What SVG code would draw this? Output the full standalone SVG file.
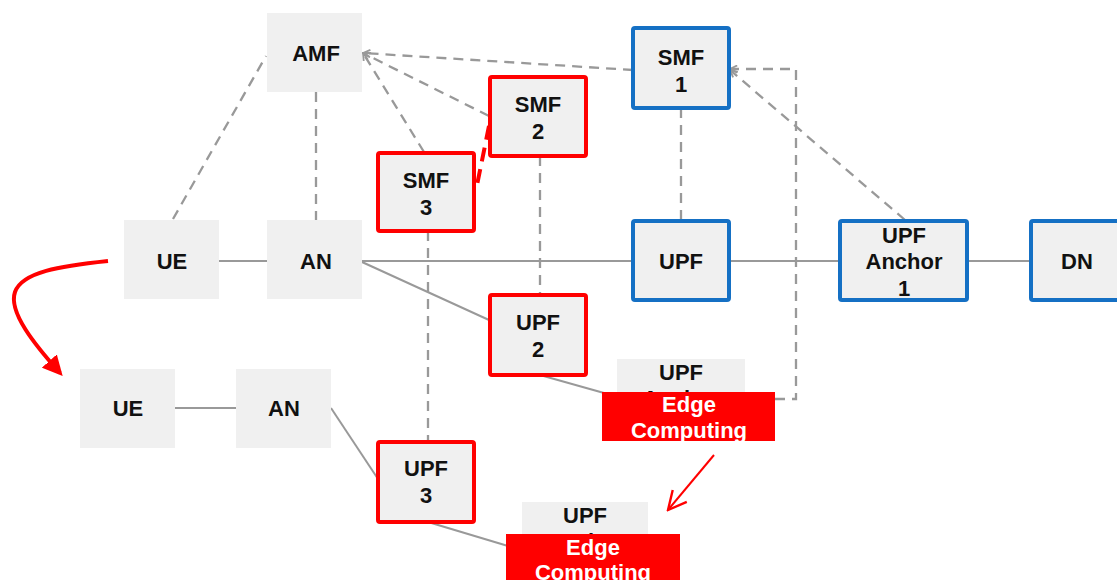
<svg xmlns="http://www.w3.org/2000/svg" width="1117" height="580" viewBox="0 0 1117 580">
  <style>
    .box { fill: #f0f0f0; }
    .blue { fill: #f0f0f0; stroke: #1570c4; stroke-width: 4; }
    .red { fill: #f0f0f0; stroke: #ff0000; stroke-width: 4; }
    .edge { fill: #ff0000; }
    .t { font-family: "Liberation Sans", Arial, sans-serif; font-weight: bold; font-size: 22px; fill: #111; text-anchor: middle; }
    .w { fill: #ffffff; }
    .solid { stroke: #999; stroke-width: 2; fill: none; }
    .dash { stroke: #999; stroke-width: 2.3; fill: none; stroke-dasharray: 10 7; }
  </style>
  <defs>
    <marker id="openGray" viewBox="0 0 10 10" refX="9" refY="5" markerWidth="9" markerHeight="9" markerUnits="userSpaceOnUse" orient="auto">
      <path d="M1,1 L9,5 L1,9" fill="none" stroke="#999" stroke-width="2"/>
    </marker>
    <marker id="redHead" viewBox="0 0 10 10" refX="8" refY="5" markerWidth="5" markerHeight="5" orient="auto">
      <path d="M0,0 L10,5 L0,10 Z" fill="#ff0000"/>
    </marker>
    <marker id="redOpen" viewBox="0 0 12 12" refX="11" refY="6" markerWidth="22" markerHeight="22" markerUnits="userSpaceOnUse" orient="auto">
      <path d="M1,1 L11,6 L1,11" fill="none" stroke="#ff0000" stroke-width="1.3"/>
    </marker>
  </defs>

  <!-- connectors: solid user-plane links, dashed control links, red moves -->
  <g id="connectors">
    <line class="solid" x1="219" y1="261" x2="267" y2="261"/>
    <line class="solid" x1="362" y1="261" x2="633" y2="261"/>
    <line class="solid" x1="729" y1="261" x2="840" y2="261"/>
    <line class="solid" x1="967" y1="261" x2="1030" y2="261"/>
    <line class="solid" x1="362" y1="262" x2="489" y2="320"/>
    <line class="solid" x1="540" y1="375" x2="604" y2="393"/>
    <line class="solid" x1="175" y1="408" x2="236" y2="408"/>
    <line class="solid" x1="331" y1="408" x2="380" y2="482"/>
    <line class="solid" x1="428" y1="522" x2="508" y2="546"/>

    <line class="dash" x1="173" y1="219" x2="266" y2="56"/>
    <line class="dash" x1="316" y1="92" x2="316" y2="220"/>
    <line class="dash" x1="633" y1="70" x2="363" y2="53" marker-end="url(#openGray)"/>
    <line class="dash" x1="489" y1="116" x2="363" y2="53" marker-end="url(#openGray)"/>
    <line class="dash" x1="424" y1="152" x2="363" y2="53" marker-end="url(#openGray)"/>
    <line class="dash" x1="540" y1="156" x2="540" y2="294"/>
    <line class="dash" x1="428" y1="231" x2="428" y2="441"/>
    <line class="dash" x1="681" y1="108" x2="681" y2="220"/>
    <line class="dash" x1="905" y1="220" x2="730" y2="70" marker-end="url(#openGray)"/>
    <polyline class="dash" points="775,399 796,399 796,69 730,69" marker-end="url(#openGray)"/>

    <line x1="489" y1="126" x2="476" y2="190" stroke="#ff0000" stroke-width="4" stroke-dasharray="14 8"/>

    <path d="M108,261 C60,266 22,272 15,292 C8,312 35,345 60,373" fill="none" stroke="#ff0000" stroke-width="4" marker-end="url(#redHead)"/>
    <line x1="714" y1="455" x2="668" y2="510" stroke="#ff0000" stroke-width="2" marker-end="url(#redOpen)"/>
  </g>

  <g id="amf"><rect class="box" x="267" y="13" width="95" height="79"/><text class="t" x="316" y="61">AMF</text></g>
  <g id="smf1"><rect class="blue" x="633" y="28" width="96" height="80" rx="2"/><text class="t" x="681" y="65">SMF</text><text class="t" x="681" y="92">1</text></g>
  <g id="smf2"><rect class="red" x="490" y="77" width="96" height="79" rx="2"/><text class="t" x="538" y="112">SMF</text><text class="t" x="538" y="139">2</text></g>
  <g id="smf3"><rect class="red" x="378" y="153" width="96" height="78" rx="2"/><text class="t" x="426" y="188">SMF</text><text class="t" x="426" y="215">3</text></g>
  <g id="ue1"><rect class="box" x="124" y="220" width="95" height="79"/><text class="t" x="172" y="269">UE</text></g>
  <g id="an1"><rect class="box" x="267" y="220" width="95" height="79"/><text class="t" x="316" y="269">AN</text></g>
  <g id="upf"><rect class="blue" x="633" y="221" width="96" height="79" rx="2"/><text class="t" x="681" y="269">UPF</text></g>
  <g id="upf-anchor1"><rect class="blue" x="840" y="221" width="127" height="79" rx="2"/><text class="t" x="904" y="243">UPF</text><text class="t" x="904" y="269">Anchor</text><text class="t" x="904" y="296">1</text></g>
  <g id="dn"><rect class="blue" x="1031" y="221" width="96" height="79" rx="2"/><text class="t" x="1077" y="269">DN</text></g>
  <g id="upf2"><rect class="red" x="490" y="295" width="96" height="80" rx="2"/><text class="t" x="538" y="330">UPF</text><text class="t" x="538" y="357">2</text></g>
  <g id="ue2"><rect class="box" x="80" y="369" width="95" height="79"/><text class="t" x="128" y="416">UE</text></g>
  <g id="an2"><rect class="box" x="236" y="369" width="95" height="79"/><text class="t" x="284" y="416">AN</text></g>
  <g id="upf3"><rect class="red" x="378" y="442" width="96" height="80" rx="2"/><text class="t" x="426" y="476">UPF</text><text class="t" x="426" y="503">3</text></g>

  <!-- UPF anchors, each partly covered by its Edge Computing banner -->
  <g id="edge1">
    <rect class="box" x="617" y="359" width="128" height="60"/>
    <text class="t" x="681" y="380">UPF</text>
    <text class="t" x="681" y="406">Anchor</text>
    <rect class="edge" x="602" y="392" width="173" height="49"/>
    <text class="t w" x="689" y="412">Edge</text>
    <text class="t w" x="689" y="438">Computing</text>
  </g>
  <g id="edge2">
    <rect class="box" x="522" y="502" width="126" height="60"/>
    <text class="t" x="585" y="523">UPF</text>
    <text class="t" x="585" y="549">Anchor</text>
    <rect class="edge" x="506" y="534" width="174" height="50"/>
    <text class="t w" x="593" y="555">Edge</text>
    <text class="t w" x="593" y="580">Computing</text>
  </g>
</svg>
